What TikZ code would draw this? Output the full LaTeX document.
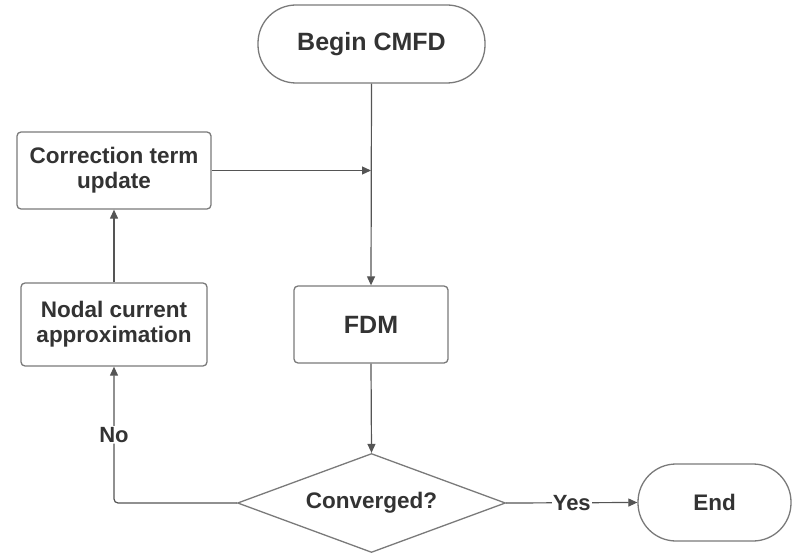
\documentclass[tikz,border=0pt]{standalone}
\usepackage{fontspec}
\setmainfont{Liberation Sans}
\usetikzlibrary{arrows.meta,shapes.geometric}
\definecolor{txt}{HTML}{333333}
\definecolor{edge}{HTML}{7A7A7A}
\definecolor{conn}{HTML}{555555}
\begin{document}
\begin{tikzpicture}[x=1pt,y=-1pt,
  box/.style={draw=edge, line width=1.3pt, fill=white, rounded corners=4pt, inner sep=0pt, align=center, text=txt, font=\fontsize{22.5}{25}\selectfont\bfseries},
  term/.style={box, rounded corners=38pt},
  decision/.style={draw=edge, line width=1.3pt, fill=white, diamond, aspect=2.68, inner sep=0pt, text=txt, font=\fontsize{22.5}{25}\selectfont\bfseries},
  conn/.style={draw=conn, line width=1.2pt, -{Triangle[length=9pt,width=8pt]}},
  lbl/.style={fill=white, inner sep=1pt, text=txt, font=\fontsize{22}{24}\selectfont\bfseries}]
\useasboundingbox (0,0) rectangle (792,553);
\node[term, minimum width=227pt, minimum height=78pt, font=\fontsize{25}{28}\selectfont\bfseries] (begin) at (371.5,44) {Begin CMFD};
\node[box, minimum width=194pt, minimum height=77pt] (corr) at (114,170.5) {Correction term\\update};
\node[box, minimum width=186pt, minimum height=83pt] (nodal) at (114,324.5) {Nodal current\\approximation};
\node[box, minimum width=154pt, minimum height=77pt, font=\fontsize{25}{28}\selectfont\bfseries] (fdm) at (371,324.5) {FDM};
\node[decision, minimum width=268pt, minimum height=99pt] (conv) at (371.5,503) {Converged?};
\node[term, minimum width=153pt, minimum height=77pt] (end) at (714.5,502.5) {End};
\coordinate (join) at (fdm.north |- corr.east);
\draw[conn] (begin.south) -- (fdm.north);
\draw[conn] (corr.east) -- (join);
\draw[conn] (nodal.north) -- (corr.south);
\draw[conn] (fdm.south) -- (conv.north);
\draw[conn, rounded corners=4pt] (conv.west) -| node[lbl, pos=0.75] (no) {No} (nodal.south);
\draw[conn] (conv.east) -- node[lbl, pos=0.5] (yes) {Yes} (end.west);
\end{tikzpicture}
\end{document}
